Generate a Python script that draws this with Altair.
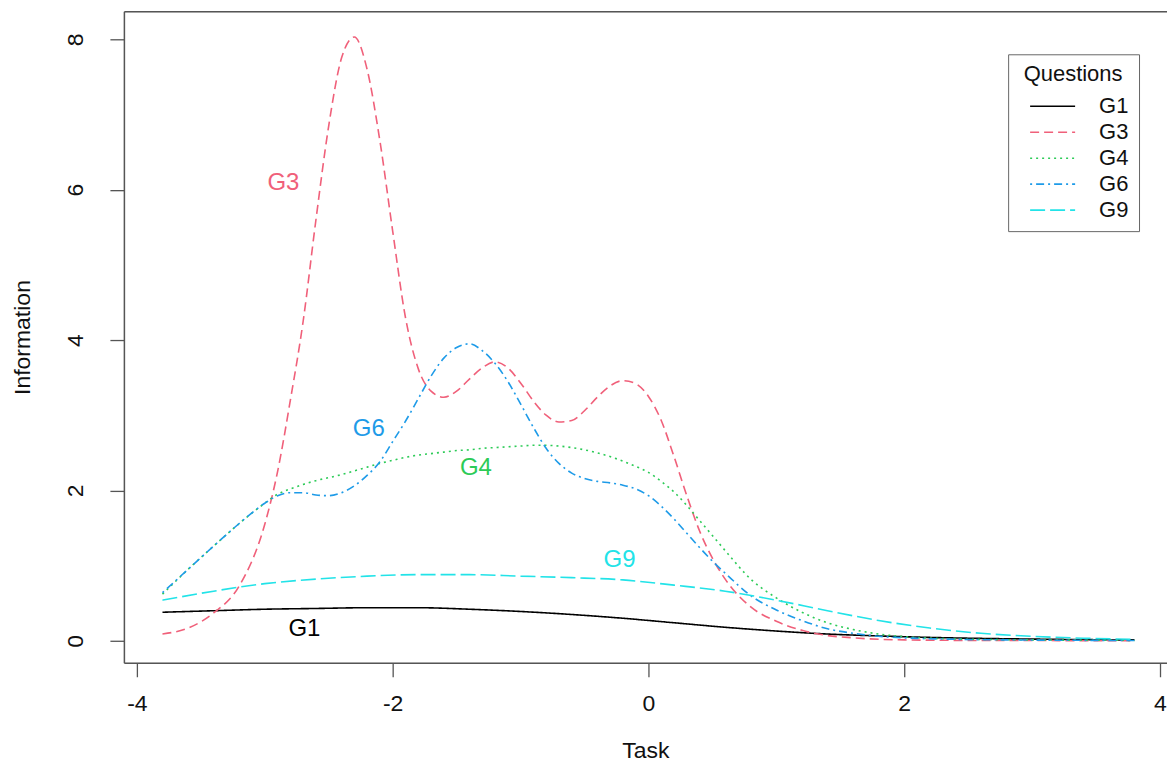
import altair as alt
import pandas as pd

# ---------------- data ----------------
SERIES = ["G1", "G3", "G4", "G6", "G9"]
COLORS = ["#000000", "#F0607A", "#2CCB57", "#1E9BE8", "#22E3E8"]
DASHES = [[1, 0], [9, 5], [2, 4], [2, 4, 8, 4], [15, 5]]

THETA_FINE = [-3.8, -3.6, -3.4, -3.2,
              -3.0, -2.9, -2.8, -2.7, -2.6, -2.5, -2.4, -2.3, -2.2, -2.1,
              -2.0, -1.9, -1.8, -1.7, -1.6, -1.5, -1.4, -1.3, -1.2, -1.1,
              -1.0, -0.9, -0.8, -0.7, -0.6, -0.5, -0.4, -0.3, -0.2, -0.1,
              0.0, 0.1, 0.2, 0.3, 0.4, 0.5, 0.6,
              0.8, 1.0, 1.2, 1.4, 1.6, 1.8, 2.0,
              2.4, 2.8, 3.2, 3.6, 3.8]

G3 = [0.09, 0.17, 0.37, 0.73,
      1.55, 2.25, 3.2, 4.25, 5.6, 6.85, 7.75, 8.03, 7.6, 6.65,
      5.45, 4.3, 3.62, 3.32, 3.24, 3.32, 3.48, 3.63, 3.71, 3.63,
      3.43, 3.19, 3.0, 2.91, 2.93, 3.06, 3.24, 3.39, 3.46, 3.42,
      3.25, 2.93, 2.45, 1.93, 1.46, 1.1, 0.82,
      0.45, 0.26, 0.14, 0.07, 0.04, 0.02, 0.012,
      0.006, 0.004, 0.003, 0.002, 0.002]

G4 = [0.62, 0.95, 1.26, 1.56,
      1.83, 1.95, 2.02, 2.08, 2.13, 2.17, 2.21, 2.26, 2.31, 2.36,
      2.4, 2.44, 2.47, 2.49, 2.51, 2.53, 2.54, 2.56, 2.57, 2.58,
      2.59, 2.6, 2.6, 2.59, 2.57, 2.54, 2.5, 2.45, 2.39, 2.32,
      2.24, 2.12, 1.98, 1.8, 1.6, 1.4, 1.2,
      0.82, 0.57, 0.38, 0.24, 0.15, 0.09, 0.055,
      0.025, 0.015, 0.01, 0.007, 0.006]

G6 = [0.64, 0.95, 1.26, 1.56,
      1.83, 1.93, 1.97, 1.97, 1.94, 1.93, 1.97, 2.06, 2.2, 2.38,
      2.65, 2.92, 3.22, 3.52, 3.76, 3.9, 3.95, 3.86, 3.69, 3.45,
      3.15, 2.84, 2.56, 2.36, 2.23, 2.16, 2.12, 2.1, 2.07, 2.02,
      1.93, 1.79, 1.62, 1.43, 1.24, 1.06, 0.9,
      0.6, 0.41, 0.27, 0.16, 0.1, 0.06, 0.04,
      0.02, 0.012, 0.008, 0.005, 0.004]

THETA_COARSE = [-3.8, -3.4, -3.0, -2.6, -2.2, -1.8, -1.4, -1.0, -0.6, -0.2,
                0.2, 0.6, 1.0, 1.4, 1.8, 2.2, 2.6, 3.0, 3.4, 3.8]

G1 = [0.38, 0.40, 0.42, 0.43, 0.44, 0.44, 0.42, 0.39, 0.35, 0.30,
      0.24, 0.18, 0.13, 0.09, 0.065, 0.045, 0.032, 0.023, 0.016, 0.012]

G9 = [0.54, 0.66, 0.76, 0.82, 0.86, 0.88, 0.88, 0.86, 0.84, 0.81,
      0.74, 0.66, 0.54, 0.40, 0.27, 0.17, 0.10, 0.06, 0.035, 0.02]

LABEL_TEXT = ["G3", "G6", "G4", "G9", "G1"]
LABEL_THETA = [-2.854, -2.187, -1.349, -0.226, -2.69]
LABEL_INFO = [6.085, 2.815, 2.294, 1.08, 0.154]
LABEL_COLOR = ["#F0607A", "#1E9BE8", "#2CCB57", "#22E3E8", "#000000"]

X_TICKS = [-4, -2, 0, 2, 4]
Y_TICKS = [0, 2, 4, 6, 8]

# ---------------- tables ----------------
rows = []
for name, th, vals in [("G1", THETA_COARSE, G1), ("G3", THETA_FINE, G3),
                       ("G4", THETA_FINE, G4), ("G6", THETA_FINE, G6),
                       ("G9", THETA_COARSE, G9)]:
    for t, v in zip(th, vals):
        rows.append({"series": name, "theta": t, "info": v})
df = pd.DataFrame(rows)

labels = pd.DataFrame({"text": LABEL_TEXT, "theta": LABEL_THETA,
                       "info": LABEL_INFO, "color": LABEL_COLOR})

FONT = "Liberation Sans"
AX = "#555555"

xscale = alt.Scale(domain=[-4.1016, 4.0547], nice=False, zero=False)
yscale = alt.Scale(domain=[-0.292, 8.372], nice=False, zero=False)


def make_legend():
    return alt.Legend(
        title="Questions", orient="none", legendX=885, legendY=43,
        titleFontSize=22, titleFont=FONT, titleFontWeight="normal",
        titleColor="#111111", titleAnchor="middle", titlePadding=7,
        labelFontSize=22, labelFont=FONT, labelColor="#111111",
        symbolType="M-0.083,0H3.67", symbolSize=576, symbolStrokeWidth=1.6,
        labelOffset=55, rowPadding=2, padding=10,
        strokeColor="#666666", fillColor="white", cornerRadius=0,
    )


lines = alt.Chart(df).mark_line(interpolate="monotone", strokeWidth=1.6).encode(
    x=alt.X("theta:Q", scale=xscale,
            axis=alt.Axis(values=X_TICKS, labelExpr="'' + datum.value",
                          title="Task", titleFontSize=23, titleFont=FONT,
                          titleFontWeight="normal", titleColor="#111111",
                          titleY=88, titleBaseline="middle",
                          labelFontSize=23, labelFont=FONT, labelColor="#111111",
                          labelBaseline="top", labelPadding=16,
                          tickSize=14, tickColor=AX, tickWidth=1.3,
                          domainColor=AX, domainWidth=1.5, grid=False)),
    y=alt.Y("info:Q", scale=yscale,
            axis=alt.Axis(values=Y_TICKS, title="Information",
                          titleFontSize=23, titleFont=FONT,
                          titleFontWeight="normal", titleColor="#111111",
                          titleAngle=-90, titleX=-101, titleY=326,
                          titleAlign="center", titleBaseline="middle",
                          labelFontSize=23, labelFont=FONT, labelColor="#111111",
                          labelAngle=-90, labelAlign="center",
                          labelBaseline="middle", labelPadding=34,
                          tickSize=14, tickColor=AX, tickWidth=1.3,
                          domainColor=AX, domainWidth=1.5, grid=False)),
    color=alt.Color("series:N", scale=alt.Scale(domain=SERIES, range=COLORS),
                    legend=make_legend()),
    strokeDash=alt.StrokeDash("series:N", scale=alt.Scale(domain=SERIES, range=DASHES),
                              legend=make_legend()),
    detail="series:N",
)

texts = alt.Chart(labels).mark_text(fontSize=24, font=FONT, align="center",
                                    baseline="middle").encode(
    x=alt.X("theta:Q", scale=xscale,
            axis=alt.Axis(orient="top", labels=False, ticks=False, title=None,
                          domainColor=AX, domainWidth=1.5, grid=False)),
    y=alt.Y("info:Q", scale=yscale, axis=None),
    text="text:N",
    fill=alt.Fill("color:N", scale=None),
)

chart = alt.layer(lines, texts).resolve_axis(
    x="independent", y="independent"
).properties(
    width=1044, height=652,
    padding={"left": 116, "top": 3, "right": 0, "bottom": 100},
    autosize=alt.AutoSizeParams(type="none"),
).configure_view(stroke=None).configure(background="white")

chart.save("out.html", embed_options={"renderer": "svg", "actions": False})
